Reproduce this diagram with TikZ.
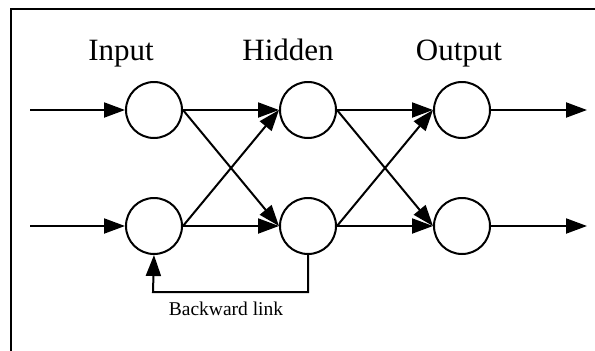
\documentclass[tikz,border=0pt]{standalone}
\usepackage{fontspec}
\setmainfont{Liberation Serif}
\usetikzlibrary{arrows.meta}
\begin{document}
\begin{tikzpicture}[x=1pt,y=-1pt,
  neuron/.style={circle,draw,line width=2pt,minimum size=56pt,inner sep=0pt},
  conn/.style={line width=2pt,-{Triangle[length=21pt,width=15pt]}},
  heading/.style={font=\fontsize{31}{36}\selectfont,anchor=base,inner sep=0pt},
  linklabel/.style={font=\fontsize{19.5}{23}\selectfont,anchor=base,inner sep=0pt}]
\useasboundingbox (0,0) rectangle (595,351);
\draw[line width=2pt] (605,9) -- (11,9) -- (11,360);
% headings
\node[heading] (hin) at (121,60) {Input};
\node[heading] (hhid) at (288,60) {Hidden};
\node[heading] (hout) at (459,60) {Output};
% neurons
\node[neuron] (i1) at (154,110) {};
\node[neuron] (i2) at (154,226) {};
\node[neuron] (h1) at (308,110) {};
\node[neuron] (h2) at (308,226) {};
\node[neuron] (o1) at (462,110) {};
\node[neuron] (o2) at (462,226) {};
% free ends
\coordinate (s1) at (30,110);
\coordinate (s2) at (30,226);
\coordinate (e1) at (587,110);
\coordinate (e2) at (587,226);
\coordinate (b1) at (308,292);
\coordinate (b2) at (153,292);
% connectors
\draw[conn] (s1) -- (i1.west);
\draw[conn] (s2) -- (i2.west);
\draw[conn] (i1.east) -- (h1.west);
\draw[conn] (i1.east) -- (h2.west);
\draw[conn] (i2.east) -- (h1.west);
\draw[conn] (i2.east) -- (h2.west);
\draw[conn] (h1.east) -- (o1.west);
\draw[conn] (h1.east) -- (o2.west);
\draw[conn] (h2.east) -- (o1.west);
\draw[conn] (h2.east) -- (o2.west);
\draw[conn] (o1.east) -- (e1);
\draw[conn] (o2.east) -- (e2);
\draw[conn] (h2.south) -- (b1) -- (b2) -- (i2.south);
\node[linklabel] (bl) at (226,315) {Backward link};
\end{tikzpicture}
\end{document}
